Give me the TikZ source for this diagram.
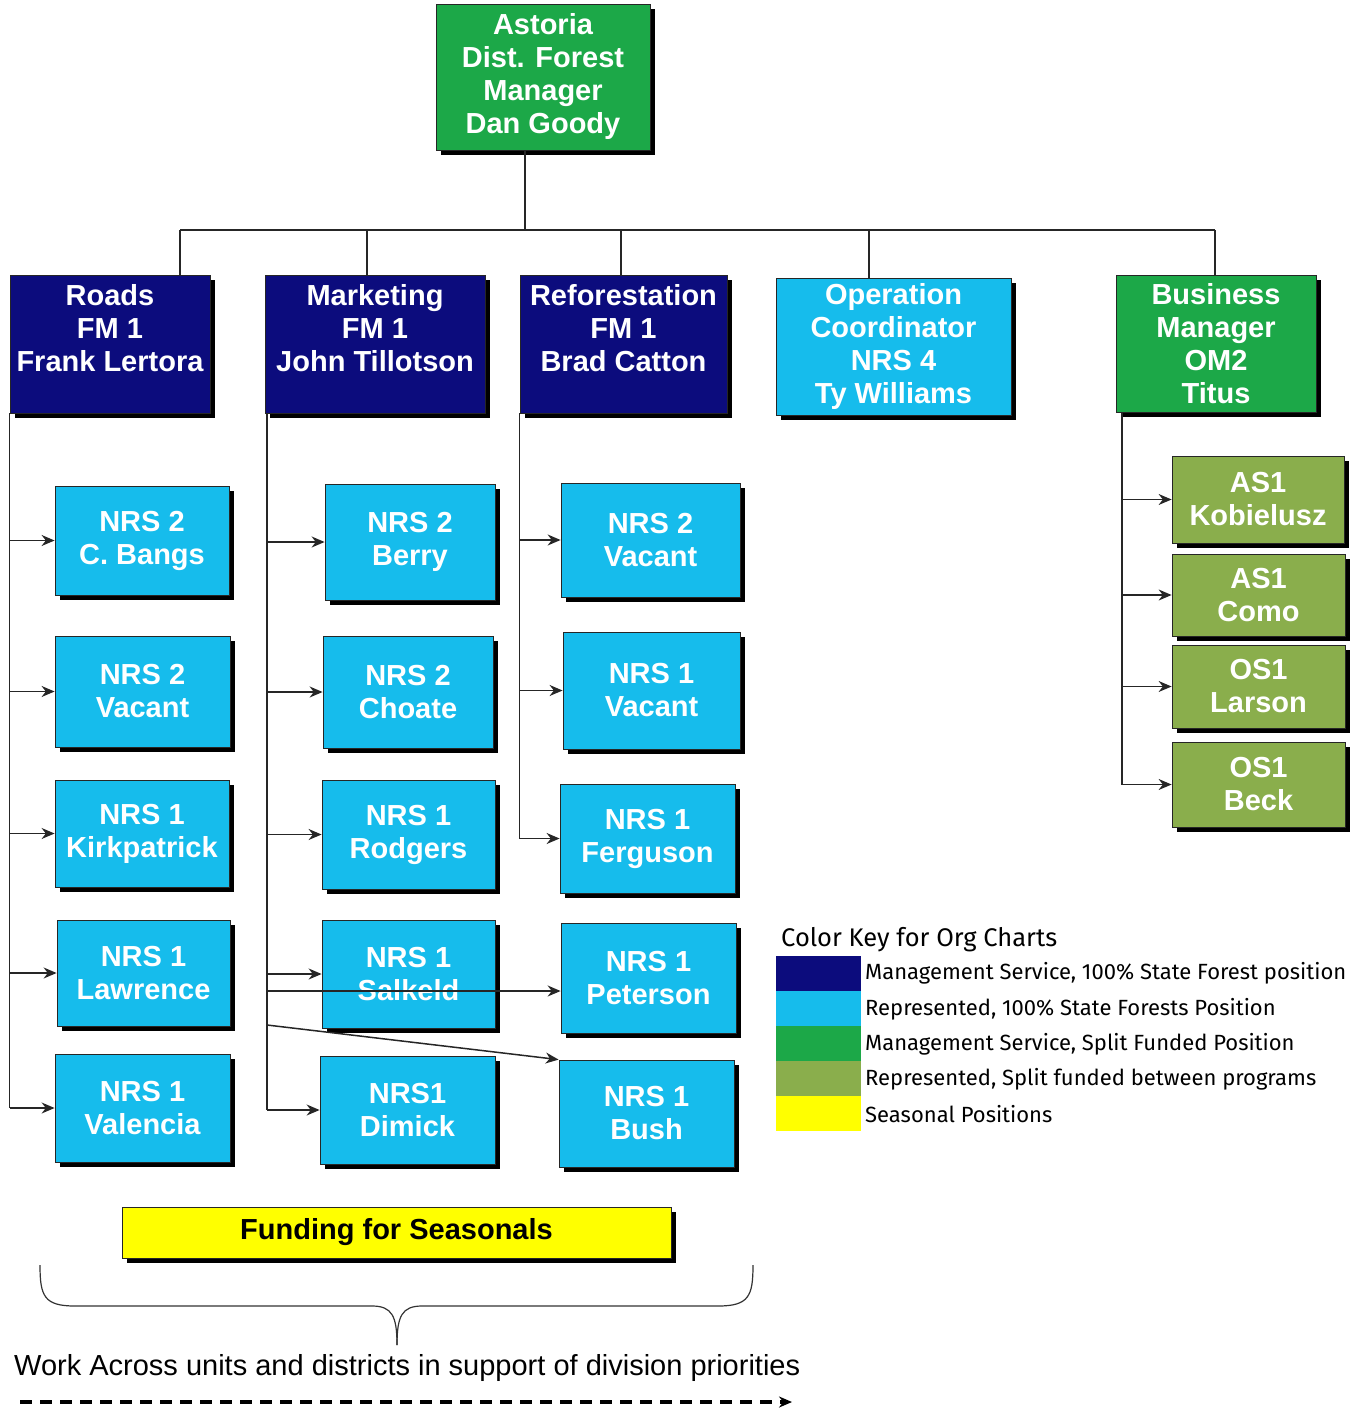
\documentclass[tikz,border=0pt]{standalone}
\usepackage{fontspec}
\setmainfont{Liberation Sans}
\newfontfamily\keyfont{Fira Sans}
\usetikzlibrary{arrows.meta,shadows,calc}
\definecolor{navyc}{RGB}{12,12,125}
\definecolor{lblue}{RGB}{22,188,236}
\definecolor{greenc}{RGB}{28,168,72}
\definecolor{olivec}{RGB}{138,174,76}
\definecolor{yelc}{RGB}{255,255,0}
\tikzset{
  box/.style={draw=black!85, line width=0.8pt, inner sep=0pt, align=center,
    text=white, font=\bfseries\fontsize{29}{33}\selectfont,
    drop shadow={shadow xshift=5pt, shadow yshift=-5pt, opacity=1, fill=black}},
  navybox/.style={box, fill=navyc},
  bluebox/.style={box, fill=lblue},
  greenbox/.style={box, fill=greenc},
  olivebox/.style={box, fill=olivec},
  yelbox/.style={box, fill=yelc, text=black},
  conn/.style={line width=1.5pt, draw=black!85},
  arr/.style={conn, -{Stealth[length=13pt,width=11pt]}},
  swatch/.style={inner sep=0pt, minimum width=85pt, minimum height=35pt},
  keytext/.style={anchor=west, inner sep=0pt, font=\keyfont\fontsize{22}{26}\selectfont}
}
\begin{document}
\begin{tikzpicture}[x=1pt,y=-1pt]
\useasboundingbox (0,0) rectangle (1367,1412);
% top
\node[greenbox, minimum width=214pt, minimum height=146pt] (astoria) at (543,77) {Astoria\\Dist. Forest\\Manager\\Dan Goody};
\node[navybox, minimum width=200pt, minimum height=138pt] (roads) at (110,344) {Roads\\FM 1\\Frank Lertora\\~};
\node[navybox, minimum width=220pt, minimum height=138pt] (marketing) at (375,344) {Marketing\\FM 1\\John Tillotson\\~};
\node[navybox, minimum width=207pt, minimum height=138pt] (refor) at (623.5,344) {Reforestation\\FM 1\\Brad Catton\\~};
\node[bluebox, minimum width=235pt, minimum height=137pt] (oper) at (893.5,346.5) {Operation\\Coordinator\\NRS 4\\Ty Williams};
\node[greenbox, minimum width=200pt, minimum height=137pt] (business) at (1216,343.5) {Business\\Manager\\OM2\\Titus};
% roads column
\node[bluebox, minimum width=174pt, minimum height=109pt] (cbangs) at (142,540.5) {NRS 2\\C. Bangs};
\node[bluebox, minimum width=175pt, minimum height=111pt] (rvacant) at (142.5,691.5) {NRS 2\\Vacant};
\node[bluebox, minimum width=174pt, minimum height=107pt] (kirk) at (142,833.5) {NRS 1\\Kirkpatrick};
\node[bluebox, minimum width=173pt, minimum height=106pt] (lawrence) at (143.5,973) {NRS 1\\Lawrence};
\node[bluebox, minimum width=175pt, minimum height=108pt] (valencia) at (142.5,1108) {NRS 1\\Valencia};
% marketing column
\node[bluebox, minimum width=170pt, minimum height=116pt] (berry) at (410,542) {NRS 2\\Berry};
\node[bluebox, minimum width=170pt, minimum height=112pt] (choate) at (408,692) {NRS 2\\Choate};
\node[bluebox, minimum width=173pt, minimum height=109pt] (rodgers) at (408.5,834.5) {NRS 1\\Rodgers};
\node[bluebox, minimum width=173pt, minimum height=108pt] (salkeld) at (408.5,974) {NRS 1\\Salkeld};
\node[bluebox, minimum width=175pt, minimum height=108pt] (dimick) at (407.5,1110) {NRS1\\Dimick};
% reforestation column
\node[bluebox, minimum width=179pt, minimum height=114pt] (fvac2) at (650.5,540) {NRS 2\\Vacant};
\node[bluebox, minimum width=177pt, minimum height=117pt] (fvac1) at (651.5,690.5) {NRS 1\\Vacant};
\node[bluebox, minimum width=175pt, minimum height=109pt] (ferguson) at (647.5,838.5) {NRS 1\\Ferguson};
\node[bluebox, minimum width=175pt, minimum height=110pt] (peterson) at (648.5,978) {NRS 1\\Peterson};
\node[bluebox, minimum width=175pt, minimum height=107pt] (bush) at (646.5,1113.5) {NRS 1\\Bush};
% business column
\node[olivebox, minimum width=172pt, minimum height=87pt] (kob) at (1258,499.5) {AS1\\Kobielusz};
\node[olivebox, minimum width=173pt, minimum height=82pt] (como) at (1258.5,595) {AS1\\Como};
\node[olivebox, minimum width=173pt, minimum height=83pt] (larson) at (1258.5,686.5) {OS1\\Larson};
\node[olivebox, minimum width=173pt, minimum height=85pt] (beck) at (1258.5,784.5) {OS1\\Beck};
% funding
\node[yelbox, minimum width=549pt, minimum height=51pt] (funding) at (396.5,1232.5) {Funding for Seasonals};

% top bus
\coordinate (bus) at (525,230);
\coordinate (bL) at (180,230);
\coordinate (bR) at (1215,230);
\draw[conn] (astoria.south -| bus) -- (bus);
\draw[conn] (bL) -- (bR);
\draw[conn] (bL) -- (bL |- roads.north);
\draw[conn] (367,230) -- (367,275.5);
\draw[conn] (621,230) -- (621,275.5);
\draw[conn] (869,230) -- (869,278.5);
\draw[conn] (bR) -- (bR |- business.north);

% roads trunk
\draw[conn] (roads.south west) -- (roads.south west |- valencia.west);
\foreach \n in {cbangs,rvacant,kirk,lawrence,valencia}
  \draw[arr] (roads.south west |- \n.west) -- (\n.west);
% marketing trunk
\coordinate (mt) at (267,413);
\draw[conn] (mt) -- (mt |- dimick.west);
\foreach \n in {berry,choate,rodgers,salkeld,dimick}
  \draw[arr] (mt |- \n.west) -- (\n.west);
\coordinate (mp) at (267,991);
\coordinate (mb) at (267,1025);
\draw[arr] (mp) -- (mp -| peterson.west);
\draw[arr] (mb) -- (bush.north west);
% reforestation trunk
\draw[conn] (refor.south west) -- (refor.south west |- ferguson.west);
\foreach \n in {fvac2,fvac1,ferguson}
  \draw[arr] (refor.south west |- \n.west) -- (\n.west);
% business trunk
\coordinate (bt) at (1122,412);
\draw[conn] (bt) -- (bt |- beck.west);
\foreach \n in {kob,como,larson,beck}
  \draw[arr] (bt |- \n.west) -- (\n.west);

% legend
\node[anchor=west, inner sep=0pt, font=\keyfont\fontsize{25.5}{29}\selectfont] (keytitle) at (781,940) {Color Key for Org Charts};
\node[swatch, fill=navyc] (s1) at (818.5,973) {};
\node[swatch, fill=lblue] (s2) at (818.5,1008) {};
\node[swatch, fill=greenc] (s3) at (818.5,1043) {};
\node[swatch, fill=olivec] (s4) at (818.5,1078) {};
\node[swatch, fill=yelc] (s5) at (818.5,1113) {};
\node[keytext] (k1) at (865,973) {Management Service, 100\% State Forest position};
\node[keytext] (k2) at (865,1009) {Represented, 100\% State Forests Position};
\node[keytext] (k3) at (865,1044) {Management Service, Split Funded Position};
\node[keytext] (k4) at (865,1079) {Represented, Split funded between programs};
\node[keytext] (k5) at (865,1114) {Seasonal Positions};

% brace
\coordinate (brL) at (40,1265);
\coordinate (brR) at (753,1265);
\coordinate (brT) at (397,1345);
\draw[line width=1.2pt, black!80] (brL) .. controls (40,1296) and (44,1306) .. (75,1306) -- (372,1306) .. controls (392,1306) and (397,1316) .. (brT);
\draw[line width=1.2pt, black!80] (brR) .. controls (753,1296) and (749,1306) .. (718,1306) -- (422,1306) .. controls (402,1306) and (397,1316) .. (brT);

% bottom text and dashed arrow
\node[anchor=west, inner sep=0pt, font=\fontsize{29}{33}\selectfont] (work) at (14,1368) {Work Across units and districts in support of division priorities};
\coordinate (dA) at (20,1402);
\coordinate (dB) at (792,1402);
\draw[line width=3.2pt, dash pattern=on 12pt off 8pt, -{Stealth[length=13pt,width=11pt]}] (dA) -- (dB);
\end{tikzpicture}
\end{document}
